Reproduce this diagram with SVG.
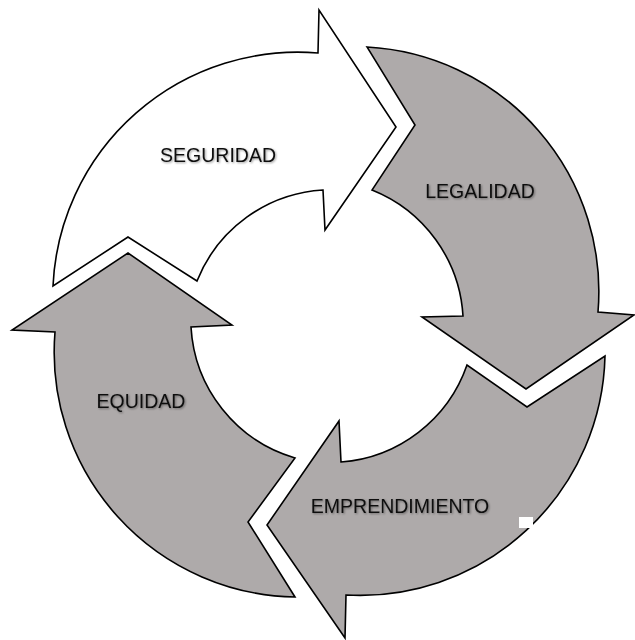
<svg xmlns="http://www.w3.org/2000/svg" width="635" height="640" viewBox="0 0 635 640">
<defs>
<style>
.arrow{stroke:#000;stroke-width:1.6;stroke-linejoin:miter}
.white{fill:#ffffff}
.gray{fill:#AEAAAA}
.lbl{font-family:"Liberation Sans",Arial,sans-serif;font-size:19.5px;fill:#111;text-anchor:middle;filter:url(#sh)}
</style>
<filter id="sh" x="-10%" y="-30%" width="120%" height="160%">
<feDropShadow dx="1" dy="1" stdDeviation="0.9" flood-color="#000" flood-opacity="0.4"/>
</filter>
</defs>
<rect width="635" height="640" fill="#fff"/>
<g id="seguridad">
<path class="arrow white" d="M 53,286 A 245 245 0 0 1 318,53 L 319,10 L 396,127 L 325,230 L 323,190 A 145 145 0 0 0 197,281 L 128,237 Z"/>
<text class="lbl" x="218" y="162">SEGURIDAD</text>
</g>
<g id="legalidad">
<path class="arrow gray" d="M 367,47 A 245 245 0 0 1 598,312 L 634,315 L 526,389 L 422,317 L 463,316 A 145 145 0 0 0 372,190 L 415,125 Z"/>
<text class="lbl" x="480" y="198">LEGALIDAD</text>
</g>
<g id="emprendimiento">
<path class="arrow gray" d="M 605,356 A 245 245 0 0 1 346,595 L 345,638 L 267,525 L 339,421 L 341,462 A 145 145 0 0 0 467,365 L 527,407 Z"/>
<rect x="519" y="517" width="14" height="11" fill="#fff"/>
<text class="lbl" x="400" y="513">EMPRENDIMIENTO</text>
</g>
<g id="equidad">
<path class="arrow gray" d="M 295,597 A 245 245 0 0 1 55,332 L 12,330 L 128,253 L 232,325 L 191,327 A 145 145 0 0 0 295,458 L 248,522 Z"/>
<text class="lbl" x="141" y="408">EQUIDAD</text>
</g>
<g id="connectors"></g>
</svg>
